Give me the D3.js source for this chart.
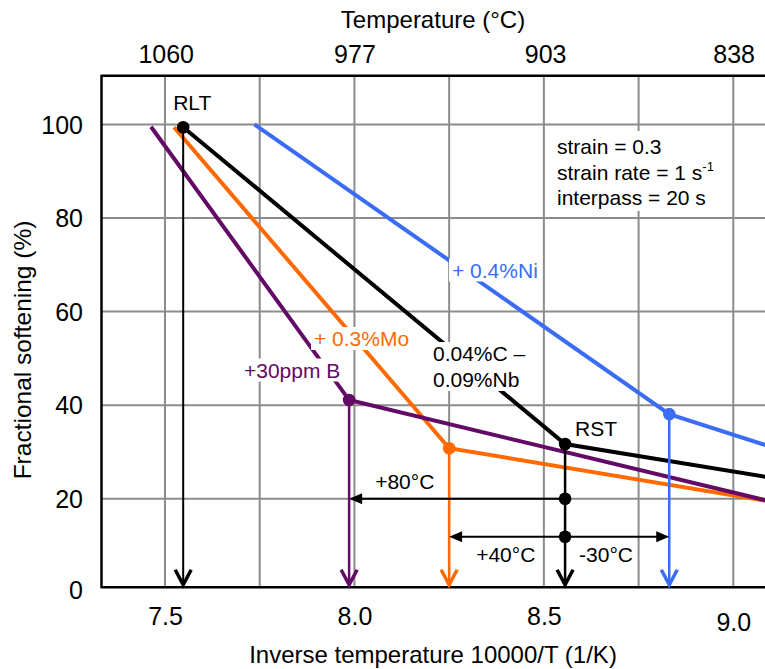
<!DOCTYPE html>
<html><head><meta charset="utf-8">
<script src="https://cdn.jsdelivr.net/npm/d3@7"></script>
<style>
body{margin:0;background:#fff}
svg{display:block}
text{font-family:Arial,"Liberation Sans",sans-serif;fill:#000}
</style>
</head><body><div id="chart"></div>
<script>
// ---------- data ----------
const xTicks = [7.5, 8.0, 8.5, 9.0];
const xGrid = [7.5, 7.75, 8.0, 8.25, 8.5, 8.75, 9.0];
const yTicks = [0, 20, 40, 60, 80, 100];
const topTempTicks = [1060, 977, 903, 838];

const seriesNames = ["0.04%C – 0.09%Nb", "+ 0.3%Mo", "+30ppm B", "+ 0.4%Ni"];
const seriesColors = ["#000000", "#ff6a00", "#620a66", "#3a6cf4"];
const nbX = [7.548, 8.556, 9.1], nbY = [99.4, 31.7, 24.5];
const moX = [7.524, 8.250, 9.1], moY = [99.4, 30.8, 19.4];
const bX  = [7.463, 7.986, 9.1], bY  = [99.5, 41.1, 19.4];
const niX = [7.736, 8.831, 9.1], niY = [100.0, 38.1, 31.1];

// temperature shifts (arrows from RST)
const shiftLabels = ["+80°C", "+40°C", "-30°C"];
const shiftY = [20, 11.9, 11.9];
const shiftFromX = [8.556, 8.556, 8.556];
const shiftToX = [7.986, 8.250, 8.831];

const conditions = ["strain = 0.3", "strain rate = 1 s", "interpass = 20 s"];

// ---------- layout ----------
const W = 765, H = 669;
const plotLeft = 101.5, plotRight = 765, plotTop = 75.7, plotBottom = 587.3;

const x = d3.scaleLinear().domain([7.5, 9.0]).range([165, 733.3]);
const y = d3.scaleLinear().domain([0, 100]).range([592.4, 124.4]);

const svg = d3.select("#chart").append("svg").attr("width", W).attr("height", H);

svg.append("defs").append("clipPath").attr("id", "clip")
  .append("rect").attr("x", plotLeft).attr("y", plotTop)
  .attr("width", plotRight - plotLeft).attr("height", plotBottom - plotTop);

// grid
const grid = svg.append("g");
grid.selectAll(".vg").data(xGrid).join("line")
  .attr("x1", d => x(d)).attr("x2", d => x(d))
  .attr("y1", plotTop).attr("y2", plotBottom)
  .attr("stroke", "#8c8c8c").attr("stroke-width", 2);
grid.selectAll(".hg").data(yTicks.filter(d => d > 0)).join("line")
  .attr("x1", plotLeft).attr("x2", plotRight)
  .attr("y1", d => y(d)).attr("y2", d => y(d))
  .attr("stroke", "#8c8c8c").attr("stroke-width", 2);

// white box behind conditions text
svg.append("rect").attr("x", 549).attr("y", 131).attr("width", 174).attr("height", 80).attr("fill", "#fff");

// axes
const bottomAxis = d3.axisBottom(x).tickValues(xTicks).tickSize(0).tickPadding(0).tickFormat(d3.format(".1f"));
const gB = svg.append("g").attr("transform", `translate(0,${plotBottom})`).call(bottomAxis);
gB.select(".domain").remove();
gB.selectAll("text").attr("font-size", 25).attr("fill", "#000")
  .attr("y", (d) => d === 9.0 ? 36 : 29.5).attr("dy", "0.32em");

const topAxis = d3.axisTop(x).tickValues(topTempTicks.map(t => 10000 / (t + 273)))
  .tickSize(0).tickPadding(0).tickFormat((d, i) => topTempTicks[i]);
const gT = svg.append("g").attr("transform", `translate(0,${plotTop})`).call(topAxis);
gT.select(".domain").remove();
gT.selectAll("text").attr("font-size", 25).attr("fill", "#000").attr("y", -13);

const leftAxis = d3.axisLeft(y).tickValues(yTicks).tickSize(0).tickPadding(0);
const gL = svg.append("g").attr("transform", `translate(83,0)`).call(leftAxis);
gL.select(".domain").remove();
gL.selectAll("text").attr("font-size", 25).attr("fill", "#000").attr("x", 0)
  .attr("dy", d => d === 0 ? "0.25em" : "0.35em");

// frame lines
svg.append("line").attr("x1", plotLeft).attr("x2", plotRight).attr("y1", plotTop).attr("y2", plotTop)
  .attr("stroke", "#000").attr("stroke-width", 2.5);
svg.append("line").attr("x1", plotLeft).attr("x2", plotRight).attr("y1", plotBottom).attr("y2", plotBottom)
  .attr("stroke", "#000").attr("stroke-width", 2.5);
svg.append("line").attr("x1", plotLeft).attr("x2", plotLeft).attr("y1", plotTop - 1).attr("y2", plotBottom + 1)
  .attr("stroke", "#000").attr("stroke-width", 2.5);

// axis titles
svg.append("text").attr("x", 433).attr("y", 28).attr("text-anchor", "middle").attr("font-size", 24)
  .text("Temperature (°C)");
svg.append("text").attr("x", 433).attr("y", 663).attr("text-anchor", "middle").attr("font-size", 24)
  .text("Inverse temperature 10000/T (1/K)");
svg.append("text").attr("transform", "translate(31,350) rotate(-90)").attr("text-anchor", "middle")
  .attr("font-size", 24.5).text("Fractional softening (%)");

// series lines
const seriesX = [nbX, moX, bX, niX], seriesY = [nbY, moY, bY, niY];
const series = seriesNames.map((n, i) => ({name: n, color: seriesColors[i],
  pts: seriesX[i].map((v, j) => [v, seriesY[i][j]])}));
const lineGen = d3.line().x(d => x(d[0])).y(d => y(d[1]));
const plot = svg.append("g").attr("clip-path", "url(#clip)");
[3, 0, 1, 2].forEach(i => {
  plot.append("path").attr("d", lineGen(series[i].pts)).attr("fill", "none")
    .attr("stroke", series[i].color).attr("stroke-width", 4);
});

// vertical arrows from transition points
const arrowPts = [
  {p: series[0].pts[0], c: seriesColors[0], w: 2},
  {p: series[2].pts[1], c: seriesColors[2], w: 2.5},
  {p: series[1].pts[1], c: seriesColors[1], w: 2.5},
  {p: series[0].pts[1], c: seriesColors[0], w: 2.5},
  {p: series[3].pts[1], c: seriesColors[3], w: 2.5},
];
const tipY = plotBottom - 2.5;
arrowPts.forEach(a => {
  const ax = x(a.p[0]);
  svg.append("line").attr("x1", ax).attr("x2", ax).attr("y1", y(a.p[1])).attr("y2", tipY - 2)
    .attr("stroke", a.c).attr("stroke-width", a.w);
  svg.append("path").attr("d", `M${ax - 8},${tipY - 15}L${ax},${tipY}L${ax + 8},${tipY - 15}`)
    .attr("fill", "none").attr("stroke", a.c).attr("stroke-width", 3.5);
});

// horizontal shift arrows
shiftLabels.forEach((lab, i) => {
  const x0 = x(shiftFromX[i]), x1 = x(shiftToX[i]), yy = y(shiftY[i]);
  const dir = x1 < x0 ? 1 : -1;
  svg.append("line").attr("x1", x0).attr("x2", x1 + dir * 10).attr("y1", yy).attr("y2", yy)
    .attr("stroke", "#000").attr("stroke-width", 2);
  svg.append("path").attr("d", `M${x1},${yy}L${x1 + dir * 13},${yy - 5.5}L${x1 + dir * 13},${yy + 5.5}Z`)
    .attr("fill", "#000");
});
svg.append("text").attr("x", x(shiftToX[0]) + 26).attr("y", y(shiftY[0]) - 10).attr("font-size", 21).text(shiftLabels[0]);
svg.append("text").attr("x", x(shiftToX[1]) + 27).attr("y", y(shiftY[1]) + 25).attr("font-size", 21).text(shiftLabels[1]);
svg.append("text").attr("x", x(shiftFromX[2]) + 14).attr("y", y(shiftY[2]) + 25).attr("font-size", 21).text(shiftLabels[2]);

// dots
const dots = [
  {p: series[0].pts[0], c: seriesColors[0]},
  {p: series[0].pts[1], c: seriesColors[0]},
  {p: series[1].pts[1], c: seriesColors[1]},
  {p: series[2].pts[1], c: seriesColors[2]},
  {p: series[3].pts[1], c: seriesColors[3]},
  {p: [shiftFromX[0], shiftY[0]], c: "#000"},
  {p: [shiftFromX[1], shiftY[1]], c: "#000"},
];
svg.selectAll(".dot").data(dots).join("circle")
  .attr("cx", d => x(d.p[0])).attr("cy", d => y(d.p[1])).attr("r", 6.3).attr("fill", d => d.c);

// labels with white background
function bgLabel(lines, x0, baselines, color) {
  const g = svg.append("g");
  const r = g.append("rect").attr("fill", "#fff");
  const ts = lines.map((t, i) => g.append("text").attr("x", x0).attr("y", baselines[i])
    .attr("font-size", 21).style("fill", color).text(t));
  let bb = null;
  ts.forEach(t => {
    const b = t.node().getBBox();
    if (!bb) bb = {x0: b.x, y0: b.y, x1: b.x + b.width, y1: b.y + b.height};
    else { bb.x0 = Math.min(bb.x0, b.x); bb.y0 = Math.min(bb.y0, b.y);
           bb.x1 = Math.max(bb.x1, b.x + b.width); bb.y1 = Math.max(bb.y1, b.y + b.height); }
  });
  r.attr("x", bb.x0 - 3).attr("y", bb.y0).attr("width", bb.x1 - bb.x0 + 6).attr("height", bb.y1 - bb.y0);
}
bgLabel([seriesNames[3]], 452, [277.5], seriesColors[3]);
bgLabel([seriesNames[1]], 314, [346], seriesColors[1]);
bgLabel([seriesNames[2]], 244, [377.5], seriesColors[2]);
bgLabel(["0.04%C –", "0.09%Nb"], 433, [361, 387], seriesColors[0]);

// RLT / RST
svg.append("text").attr("x", x(series[0].pts[0][0]) - 10).attr("y", 110).attr("font-size", 21).text("RLT");
svg.append("text").attr("x", x(series[0].pts[1][0]) + 10).attr("y", 435.5).attr("font-size", 21).text("RST");

// conditions
const cond = svg.append("g").attr("font-size", 21);
cond.append("text").attr("x", 557).attr("y", 154).text(conditions[0]);
const t2 = cond.append("text").attr("x", 557).attr("y", 180).text(conditions[1]);
t2.append("tspan").attr("font-size", 13).attr("dy", -9).text("-1");
cond.append("text").attr("x", 557).attr("y", 205).text(conditions[2]);
</script>
</body></html>
